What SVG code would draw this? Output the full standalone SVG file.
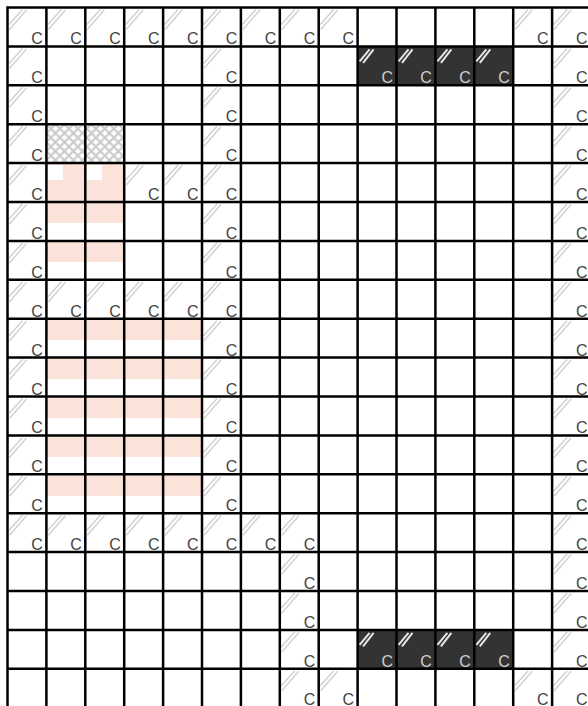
<svg xmlns="http://www.w3.org/2000/svg" width="588" height="706" viewBox="0 0 588 706">
<style>
.c{font-family:"Liberation Sans",Arial,sans-serif;font-size:16px;fill:#444;text-anchor:end}
.cd{font-family:"Liberation Sans",Arial,sans-serif;font-size:16px;fill:#cfcfcf;text-anchor:end}
.pk{fill:#fce3d9}
.wh{fill:#ffffff}
.dk{fill:#333333}
.grid{fill:none;stroke:#000;stroke-width:2.5}
</style>
<defs>
<pattern id="xh" patternUnits="userSpaceOnUse" width="9" height="9" x="46.4" y="124.2">
<rect width="9" height="9" fill="#fff"/>
<path d="M-1,1 L1,-1 M0,9 L9,0 M8,10 L10,8 M-1,8 L1,10 M0,0 L9,9 M8,-1 L10,1" stroke="#c8c8c8" stroke-width="2" fill="none"/>
</pattern>
<path id="hw" d="M1.5,17 L15,2 M2,22 L19,2.5" fill="none" stroke="#d2d2d2" stroke-width="1.5"/>
<path id="hd" d="M2,15 L12,3 M5.5,16.5 L16,3" fill="none" stroke="#e6e6e6" stroke-width="2"/>
</defs>
<rect width="588" height="706" fill="#fff"/>
<g id="fills">
<rect x="46.4" y="124.2" width="77.8" height="38.9" fill="url(#xh)"/>
<rect class="pk" x="46.4" y="163.1" width="77.8" height="38.9"/>
<rect class="wh" x="48" y="165" width="15" height="15"/>
<rect class="wh" x="86.9" y="165" width="15" height="15"/>
<rect class="pk" x="46.4" y="202" width="77.8" height="21"/>
<rect class="pk" x="46.4" y="240.9" width="77.8" height="21"/>
<rect class="pk" x="46.4" y="319.7" width="155.6" height="20.5"/>
<rect class="pk" x="46.4" y="358.6" width="155.6" height="20.5"/>
<rect class="pk" x="46.4" y="397.5" width="155.6" height="20.5"/>
<rect class="pk" x="46.4" y="436.4" width="155.6" height="20.5"/>
<rect class="pk" x="46.4" y="475.3" width="155.6" height="20.5"/>
<rect class="dk" x="357.6" y="46.4" width="155.6" height="38.9"/>
<rect class="dk" x="357.6" y="629.9" width="155.6" height="38.9"/>
</g>
<g id="hatches">
<use href="#hw" x="7.5" y="7.5"/><use href="#hw" x="46.4" y="7.5"/><use href="#hw" x="85.3" y="7.5"/><use href="#hw" x="124.2" y="7.5"/><use href="#hw" x="163.1" y="7.5"/><use href="#hw" x="202" y="7.5"/><use href="#hw" x="240.9" y="7.5"/><use href="#hw" x="279.8" y="7.5"/><use href="#hw" x="318.7" y="7.5"/><use href="#hw" x="513.2" y="7.5"/><use href="#hw" x="552.1" y="7.5"/>
<use href="#hw" x="7.5" y="46.4"/><use href="#hw" x="202" y="46.4"/><use href="#hw" x="552.1" y="46.4"/>
<use href="#hw" x="7.5" y="85.3"/><use href="#hw" x="202" y="85.3"/><use href="#hw" x="552.1" y="85.3"/>
<use href="#hw" x="7.5" y="124.2"/><use href="#hw" x="202" y="124.2"/><use href="#hw" x="552.1" y="124.2"/>
<use href="#hw" x="7.5" y="163.1"/><use href="#hw" x="124.2" y="163.1"/><use href="#hw" x="163.1" y="163.1"/><use href="#hw" x="202" y="163.1"/><use href="#hw" x="552.1" y="163.1"/>
<use href="#hw" x="7.5" y="202"/><use href="#hw" x="202" y="202"/><use href="#hw" x="552.1" y="202"/>
<use href="#hw" x="7.5" y="240.9"/><use href="#hw" x="202" y="240.9"/><use href="#hw" x="552.1" y="240.9"/>
<use href="#hw" x="7.5" y="279.8"/><use href="#hw" x="46.4" y="279.8"/><use href="#hw" x="85.3" y="279.8"/><use href="#hw" x="124.2" y="279.8"/><use href="#hw" x="163.1" y="279.8"/><use href="#hw" x="202" y="279.8"/><use href="#hw" x="552.1" y="279.8"/>
<use href="#hw" x="7.5" y="318.7"/><use href="#hw" x="202" y="318.7"/><use href="#hw" x="552.1" y="318.7"/>
<use href="#hw" x="7.5" y="357.6"/><use href="#hw" x="202" y="357.6"/><use href="#hw" x="552.1" y="357.6"/>
<use href="#hw" x="7.5" y="396.5"/><use href="#hw" x="202" y="396.5"/><use href="#hw" x="552.1" y="396.5"/>
<use href="#hw" x="7.5" y="435.4"/><use href="#hw" x="202" y="435.4"/><use href="#hw" x="552.1" y="435.4"/>
<use href="#hw" x="7.5" y="474.3"/><use href="#hw" x="202" y="474.3"/><use href="#hw" x="552.1" y="474.3"/>
<use href="#hw" x="7.5" y="513.2"/><use href="#hw" x="46.4" y="513.2"/><use href="#hw" x="85.3" y="513.2"/><use href="#hw" x="124.2" y="513.2"/><use href="#hw" x="163.1" y="513.2"/><use href="#hw" x="202" y="513.2"/><use href="#hw" x="240.9" y="513.2"/><use href="#hw" x="279.8" y="513.2"/><use href="#hw" x="552.1" y="513.2"/>
<use href="#hw" x="279.8" y="552.1"/><use href="#hw" x="552.1" y="552.1"/>
<use href="#hw" x="279.8" y="591"/><use href="#hw" x="552.1" y="591"/>
<use href="#hw" x="279.8" y="629.9"/><use href="#hw" x="552.1" y="629.9"/>
<use href="#hw" x="279.8" y="668.8"/><use href="#hw" x="318.7" y="668.8"/><use href="#hw" x="513.2" y="668.8"/><use href="#hw" x="552.1" y="668.8"/>
<use href="#hd" x="357.6" y="46.4"/><use href="#hd" x="396.5" y="46.4"/><use href="#hd" x="435.4" y="46.4"/><use href="#hd" x="474.3" y="46.4"/>
<use href="#hd" x="357.6" y="629.9"/><use href="#hd" x="396.5" y="629.9"/><use href="#hd" x="435.4" y="629.9"/><use href="#hd" x="474.3" y="629.9"/>
</g>
<g id="labels">
<text class="c" x="42.9" y="44.4">C</text><text class="c" x="81.8" y="44.4">C</text><text class="c" x="120.7" y="44.4">C</text><text class="c" x="159.6" y="44.4">C</text><text class="c" x="198.5" y="44.4">C</text><text class="c" x="237.4" y="44.4">C</text><text class="c" x="276.3" y="44.4">C</text><text class="c" x="315.2" y="44.4">C</text><text class="c" x="354.1" y="44.4">C</text><text class="c" x="548.6" y="44.4">C</text><text class="c" x="587.5" y="44.4">C</text>
<text class="c" x="42.9" y="83.3">C</text><text class="c" x="237.4" y="83.3">C</text><text class="c" x="587.5" y="83.3">C</text>
<text class="cd" x="393" y="83.3">C</text><text class="cd" x="431.9" y="83.3">C</text><text class="cd" x="470.8" y="83.3">C</text><text class="cd" x="509.7" y="83.3">C</text>
<text class="c" x="42.9" y="122.2">C</text><text class="c" x="237.4" y="122.2">C</text><text class="c" x="587.5" y="122.2">C</text>
<text class="c" x="42.9" y="161.1">C</text><text class="c" x="237.4" y="161.1">C</text><text class="c" x="587.5" y="161.1">C</text>
<text class="c" x="42.9" y="200">C</text><text class="c" x="159.6" y="200">C</text><text class="c" x="198.5" y="200">C</text><text class="c" x="237.4" y="200">C</text><text class="c" x="587.5" y="200">C</text>
<text class="c" x="42.9" y="238.9">C</text><text class="c" x="237.4" y="238.9">C</text><text class="c" x="587.5" y="238.9">C</text>
<text class="c" x="42.9" y="277.8">C</text><text class="c" x="237.4" y="277.8">C</text><text class="c" x="587.5" y="277.8">C</text>
<text class="c" x="42.9" y="316.7">C</text><text class="c" x="81.8" y="316.7">C</text><text class="c" x="120.7" y="316.7">C</text><text class="c" x="159.6" y="316.7">C</text><text class="c" x="198.5" y="316.7">C</text><text class="c" x="237.4" y="316.7">C</text><text class="c" x="587.5" y="316.7">C</text>
<text class="c" x="42.9" y="355.6">C</text><text class="c" x="237.4" y="355.6">C</text><text class="c" x="587.5" y="355.6">C</text>
<text class="c" x="42.9" y="394.5">C</text><text class="c" x="237.4" y="394.5">C</text><text class="c" x="587.5" y="394.5">C</text>
<text class="c" x="42.9" y="433.4">C</text><text class="c" x="237.4" y="433.4">C</text><text class="c" x="587.5" y="433.4">C</text>
<text class="c" x="42.9" y="472.3">C</text><text class="c" x="237.4" y="472.3">C</text><text class="c" x="587.5" y="472.3">C</text>
<text class="c" x="42.9" y="511.2">C</text><text class="c" x="237.4" y="511.2">C</text><text class="c" x="587.5" y="511.2">C</text>
<text class="c" x="42.9" y="550.1">C</text><text class="c" x="81.8" y="550.1">C</text><text class="c" x="120.7" y="550.1">C</text><text class="c" x="159.6" y="550.1">C</text><text class="c" x="198.5" y="550.1">C</text><text class="c" x="237.4" y="550.1">C</text><text class="c" x="276.3" y="550.1">C</text><text class="c" x="315.2" y="550.1">C</text><text class="c" x="587.5" y="550.1">C</text>
<text class="c" x="315.2" y="589">C</text><text class="c" x="587.5" y="589">C</text>
<text class="c" x="315.2" y="627.9">C</text><text class="c" x="587.5" y="627.9">C</text>
<text class="c" x="315.2" y="666.8">C</text><text class="c" x="587.5" y="666.8">C</text>
<text class="cd" x="393" y="666.8">C</text><text class="cd" x="431.9" y="666.8">C</text><text class="cd" x="470.8" y="666.8">C</text><text class="cd" x="509.7" y="666.8">C</text>
<text class="c" x="315.2" y="704.5">C</text><text class="c" x="354.1" y="704.5">C</text><text class="c" x="548.6" y="704.5">C</text><text class="c" x="587.5" y="704.5">C</text>
</g>
<g id="grid">
<path class="grid" d="M7.5,6.3V706 M46.4,6.3V706 M85.3,6.3V706 M124.2,6.3V706 M163.1,6.3V706 M202,6.3V706 M240.9,6.3V706 M279.8,6.3V706 M318.7,6.3V706 M357.6,6.3V706 M396.5,6.3V706 M435.4,6.3V706 M474.3,6.3V706 M513.2,6.3V706 M552.1,6.3V706 M6.3,7.5H588 M6.3,46.4H588 M6.3,85.3H588 M6.3,124.2H588 M6.3,163.1H588 M6.3,202H588 M6.3,240.9H588 M6.3,279.8H588 M6.3,318.7H588 M6.3,357.6H588 M6.3,396.5H588 M6.3,435.4H588 M6.3,474.3H588 M6.3,513.2H588 M6.3,552.1H588 M6.3,591H588 M6.3,629.9H588 M6.3,668.8H588"/>
</g>
</svg>
